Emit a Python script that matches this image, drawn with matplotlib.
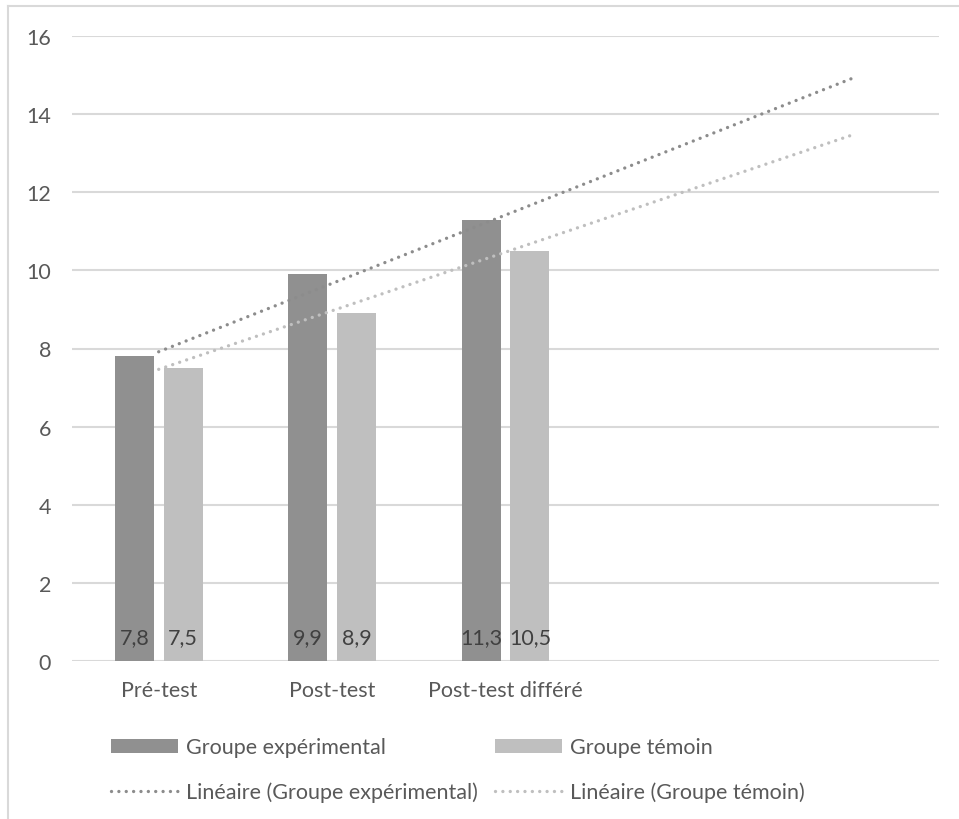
import numpy as np
import matplotlib
matplotlib.use("Agg")
import matplotlib.pyplot as plt
from matplotlib.lines import Line2D

categories = ["Pré-test", "Post-test", "Post-test différé"]
n_slots = 5  # two extra empty category slots (trend forecast)
exp_values = [7.8, 9.9, 11.3]
tem_values = [7.5, 8.9, 10.5]
exp_labels = ["7,8", "9,9", "11,3"]
tem_labels = ["7,5", "8,9", "10,5"]
yticks = [0, 2, 4, 6, 8, 10, 12, 14, 16]
series_names = ["Groupe expérimental", "Groupe témoin"]
trend_names = ["Linéaire (Groupe expérimental)", "Linéaire (Groupe témoin)"]

plt.rcParams['font.family'] = ['Lato', 'DejaVu Sans']
TXT = '#595959'
DARK = '#909090'
LIGHT = '#bfbfbf'
GRID = '#d9d9d9'
FS = 15.5

fig = plt.figure(figsize=(9.59, 8.2), dpi=100)
ax = fig.add_axes([72/959, 1-662/820, (939-72)/959, (662-37)/820])

x = np.arange(len(categories))
w = 0.225
off = 0.141
b1 = ax.bar(x - off, exp_values, w, color=DARK, zorder=3)
b2 = ax.bar(x + off, tem_values, w, color=LIGHT, zorder=3)

for xi, lab in zip(x - off, exp_labels):
    ax.text(xi, 0.6, lab, ha='center', va='center', fontsize=FS, color='#404040', zorder=4)
for xi, lab in zip(x + off, tem_labels):
    ax.text(xi, 0.6, lab, ha='center', va='center', fontsize=FS, color='#404040', zorder=4)

# linear trendlines with 2-period forward forecast
xt = np.array([0, n_slots - 1])
dot = (0, (0.01, 2.2))
p1 = np.polyfit(x, exp_values, 1)
p2 = np.polyfit(x, tem_values, 1)
l1, = ax.plot(xt, np.polyval(p1, xt), color='#8c8c8c', lw=2.4, linestyle=dot,
              dash_capstyle='round', zorder=5)
l2, = ax.plot(xt, np.polyval(p2, xt), color=LIGHT, lw=2.4, linestyle=dot,
              dash_capstyle='round', zorder=5)

ax.set_xlim(-0.5, n_slots - 0.5)
ax.set_ylim(0, 16)
ax.set_yticks(yticks)
ax.set_yticklabels([str(t) for t in yticks])
ax.set_xticks(x)
ax.set_xticklabels(categories)
ax.tick_params(axis='both', length=0, labelsize=FS, labelcolor=TXT)
ax.tick_params(axis='y', pad=15)
ax.tick_params(axis='x', pad=14)
ax.grid(axis='y', color=GRID, lw=1.5, zorder=0)
for s in ax.spines.values():
    s.set_visible(False)

leg = fig.legend([b1, l1, b2, l2],
                 [series_names[0], trend_names[0], series_names[1], trend_names[1]],
                 ncol=2, frameon=False, fontsize=FS, labelcolor=TXT,
                 handlelength=3.1, handleheight=0.6, handletextpad=0.37,
                 columnspacing=0.8, labelspacing=1.13,
                 loc='upper left', bbox_to_anchor=(92/959, 1-719/820))

# outer chart frame (left and top edges)
fig.add_artist(Line2D([8/959, 8/959], [0, 1-7/820], transform=fig.transFigure,
                      color=GRID, lw=1.5))
fig.add_artist(Line2D([8/959, 1], [1-7/820, 1-7/820], transform=fig.transFigure,
                      color=GRID, lw=1.5))

fig.savefig("out.png", dpi=100)
